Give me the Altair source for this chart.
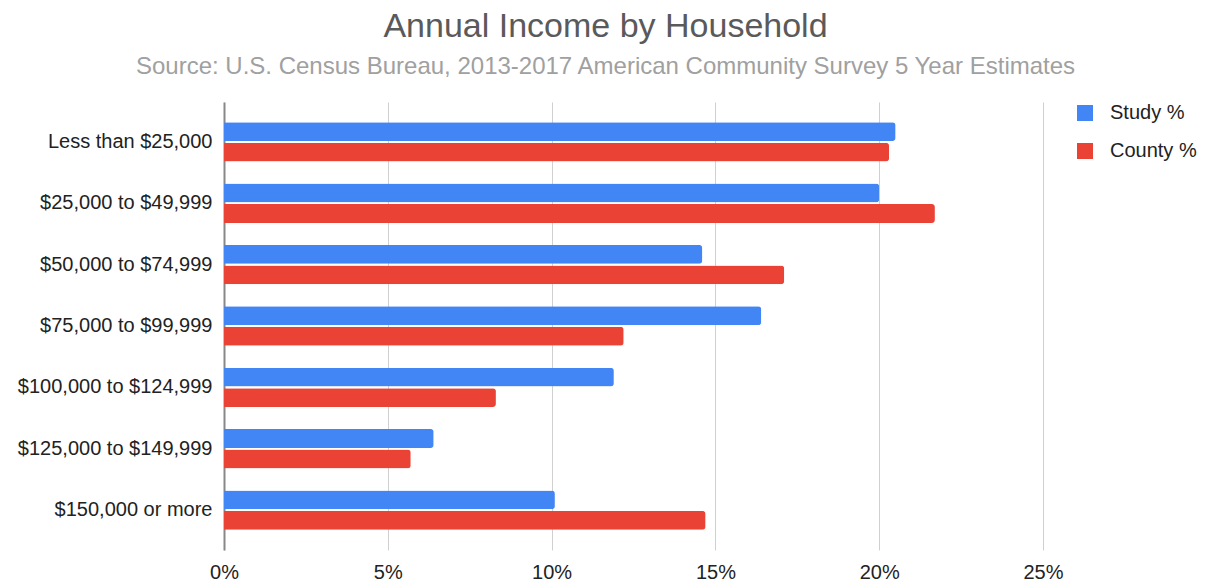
import altair as alt
import pandas as pd

categories = ["Less than $25,000", "$25,000 to $49,999", "$50,000 to $74,999",
              "$75,000 to $99,999", "$100,000 to $124,999", "$125,000 to $149,999",
              "$150,000 or more"]
series_names = ["Study %", "County %"]
study = [20.5, 20.0, 14.6, 16.4, 11.9, 6.4, 10.1]
county = [20.3, 21.7, 17.1, 12.2, 8.3, 5.7, 14.7]
x_ticks = [0, 0.05, 0.10, 0.15, 0.20, 0.25]

rows = []
for c, s, k in zip(categories, study, county):
    rows.append({"Income": c, "Series": series_names[0], "Value": s / 100})
    rows.append({"Income": c, "Series": series_names[1], "Value": k / 100})
df = pd.DataFrame(rows)

FONT = "Liberation Sans"

chart = alt.Chart(df).mark_bar(cornerRadiusEnd=3).encode(
    x=alt.X("Value:Q",
            scale=alt.Scale(domain=[0, 0.25], nice=False),
            axis=alt.Axis(values=x_ticks, format="%", title=None, domain=False,
                          ticks=False, labelPadding=12, labelFontSize=20,
                          labelFlush=False,
                          labelColor="#222", labelFont=FONT,
                          gridColor="#d0d0d0", gridWidth=1)),
    y=alt.Y("Income:N", sort=categories,
            scale=alt.Scale(paddingInner=0.36, paddingOuter=0.33),
            axis=alt.Axis(title=None, ticks=False, labelPadding=12, labelLimit=400,
                          labelFontSize=20, labelColor="#222", labelFont=FONT,
                          domainColor="#888", domainWidth=2, grid=False)),
    yOffset=alt.YOffset("Series:N", sort=series_names,
                        scale=alt.Scale(paddingInner=0.08)),
    color=alt.Color("Series:N", sort=series_names,
                    scale=alt.Scale(domain=series_names, range=["#4285F4", "#EA4335"]),
                    legend=alt.Legend(title=None, orient="none", legendX=851, legendY=1,
                                      symbolType="square", symbolSize=256,
                                      symbolStrokeWidth=0, labelFontSize=20,
                                      labelColor="#222", labelFont=FONT,
                                      rowPadding=18, labelOffset=15)),
).properties(
    width=819,
    height=448,
    background="white",
    title=alt.TitleParams(
        text="Annual Income by Household",
        subtitle="Source: U.S. Census Bureau, 2013-2017 American Community Survey 5 Year Estimates",
        anchor="middle", frame="group", dx=-28,
        font=FONT, fontSize=34, fontWeight="normal", color="#5a5a5a",
        subtitleFont=FONT, subtitleFontSize=24, subtitleColor="#a0a0a0",
        subtitlePadding=11, offset=23),
    autosize=alt.AutoSizeParams(type="none"),
    padding={"left": 224, "top": 102, "right": 162, "bottom": 37},
).configure_view(strokeWidth=0)

chart.save("out.html", embed_options={"renderer": "svg", "actions": False})
